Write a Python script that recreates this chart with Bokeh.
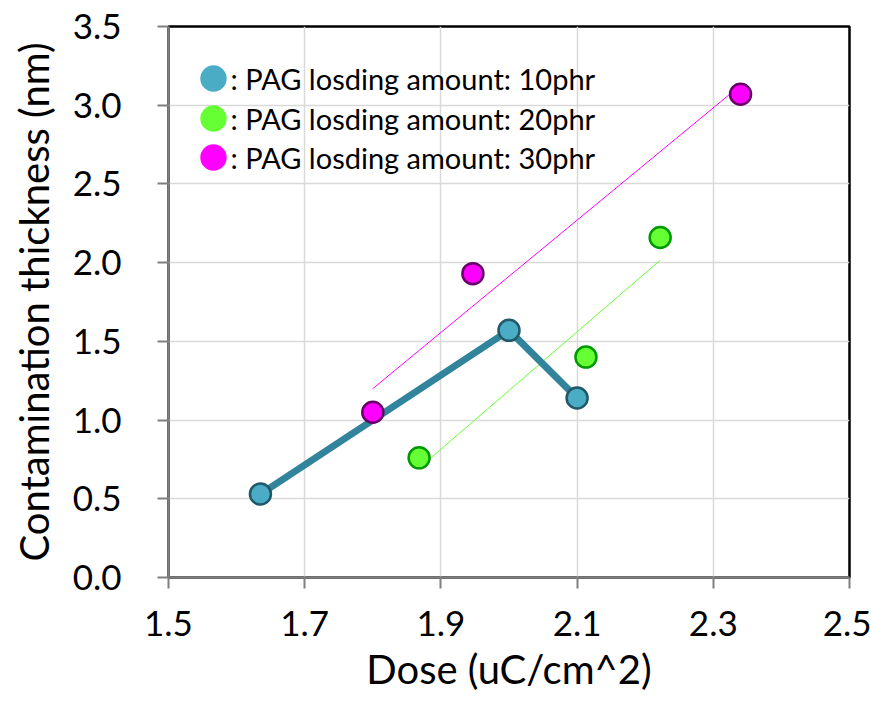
import numpy as np
from bokeh.plotting import figure
from bokeh.models import Range1d, FixedTicker, NumeralTickFormatter, Legend, LegendItem, Label
from bokeh.embed import file_html
from bokeh.resources import INLINE

# Measured contamination thickness versus exposure dose, per PAG loading
dose_10phr = [1.635, 2.0, 2.1]
thick_10phr = [0.53, 1.57, 1.14]
dose_20phr = [1.868, 2.113, 2.222]
thick_20phr = [0.76, 1.40, 2.16]
dose_30phr = [1.80, 1.947, 2.34]
thick_30phr = [1.05, 1.93, 3.07]

series_labels = [
    ": PAG losding amount: 10phr",
    ": PAG losding amount: 20phr",
    ": PAG losding amount: 30phr",
]
x_tick_values = [1.5, 1.7, 1.9, 2.1, 2.3, 2.5]
y_tick_values = [0.0, 0.5, 1.0, 1.5, 2.0, 2.5, 3.0, 3.5]

FONT = "Lato"
BLUE_FILL, BLUE_EDGE, BLUE_LINE = "#4bacc6", "#215968", "#31849b"
GREEN_FILL, GREEN_EDGE = "#66ff33", "#009900"
MAGENTA_FILL, MAGENTA_EDGE = "#ff00ff", "#660066"


def linear_trend(xs, ys):
    """Least-squares straight line spanning the x extent of the series."""
    k, b = np.polyfit(xs, ys, 1)
    x0, x1 = min(xs), max(xs)
    return [x0, x1], [k * x0 + b, k * x1 + b]


p = figure(
    width=871, height=703,
    x_range=Range1d(1.5, 2.5), y_range=Range1d(0, 3.5),
    output_backend="svg", toolbar_location=None,
    min_border_left=168, min_border_right=22,
    min_border_top=26, min_border_bottom=126,
    background_fill_color="white", border_fill_color="white",
)

# frame and grid
p.outline_line_color = "black"
p.outline_line_width = 2.5
p.xgrid.grid_line_color = "#d9d9d9"
p.ygrid.grid_line_color = "#d9d9d9"
p.xgrid.grid_line_width = 1.5
p.ygrid.grid_line_width = 1.5

# axes
for ax in (p.xaxis[0], p.yaxis[0]):
    ax.axis_line_color = "#7f7f7f"
    ax.axis_line_width = 2.5
    ax.major_tick_line_color = "#7f7f7f"
    ax.major_tick_line_width = 2
    ax.major_tick_in = 0
    ax.major_tick_out = 11
    ax.minor_tick_line_color = None
    ax.major_label_text_font = FONT
    ax.major_label_text_font_size = "35px"
    ax.major_label_text_color = "black"
    ax.axis_label_text_font = FONT
    ax.axis_label_text_font_size = "40px"
    ax.axis_label_text_font_style = "normal"
    ax.axis_label_text_color = "black"
    ax.formatter = NumeralTickFormatter(format="0.0")

p.xaxis.ticker = FixedTicker(ticks=x_tick_values)
p.yaxis.ticker = FixedTicker(ticks=y_tick_values)
p.xaxis.axis_label = "Dose (uC/cm^2)"
p.yaxis.axis_label = "Contamination thickness (nm)"
p.xaxis.major_label_standoff = 22
p.yaxis.major_label_standoff = 36
p.xaxis.axis_label_standoff = 6
p.yaxis.axis_label_standoff = 12

# linear trend lines for the 20 and 30 phr series
tx, ty = linear_trend(dose_20phr, thick_20phr)
p.line(tx, ty, line_color=GREEN_FILL, line_width=1)
tx, ty = linear_trend(dose_30phr, thick_30phr)
p.line(tx, ty, line_color=MAGENTA_FILL, line_width=1)

# 10 phr connected series
p.line(dose_10phr, thick_10phr, line_color=BLUE_LINE, line_width=7, line_join="round")

p.scatter(dose_10phr, thick_10phr, size=21, fill_color=BLUE_FILL,
          line_color=BLUE_EDGE, line_width=2.5)
p.scatter(dose_20phr, thick_20phr, size=21, fill_color=GREEN_FILL,
          line_color=GREEN_EDGE, line_width=2.5)
p.scatter(dose_30phr, thick_30phr, size=21, fill_color=MAGENTA_FILL,
          line_color=MAGENTA_EDGE, line_width=2.5)

# legend: plain filled circle swatches (hidden on the plot, shown in the legend)
# with the description text set right next to each swatch
series = [(dose_10phr, thick_10phr, BLUE_FILL),
          (dose_20phr, thick_20phr, GREEN_FILL),
          (dose_30phr, thick_30phr, MAGENTA_FILL)]
row_centers = [499, 459, 420]   # px above the frame's bottom edge
for (xs, ys, color), label, cy in zip(series, series_labels, row_centers):
    swatch = p.scatter(xs, ys, size=26, fill_color=color, line_color=None, visible=False)
    legend = Legend(
        items=[LegendItem(label=" ", renderers=[swatch])],
        location=(12, cy - 33),
        glyph_width=66, glyph_height=66,
        label_standoff=0,
        padding=0, margin=0,
        border_line_color=None, background_fill_alpha=0,
        label_text_font_size="10px",
    )
    p.add_layout(legend)
    p.add_layout(Label(
        x=62, y=cy, x_units="screen", y_units="screen", text=label,
        text_font=FONT, text_font_size="29px", text_color="black",
        text_baseline="middle", text_align="left",
    ))

open("out.html", "w").write(file_html(p, INLINE))
